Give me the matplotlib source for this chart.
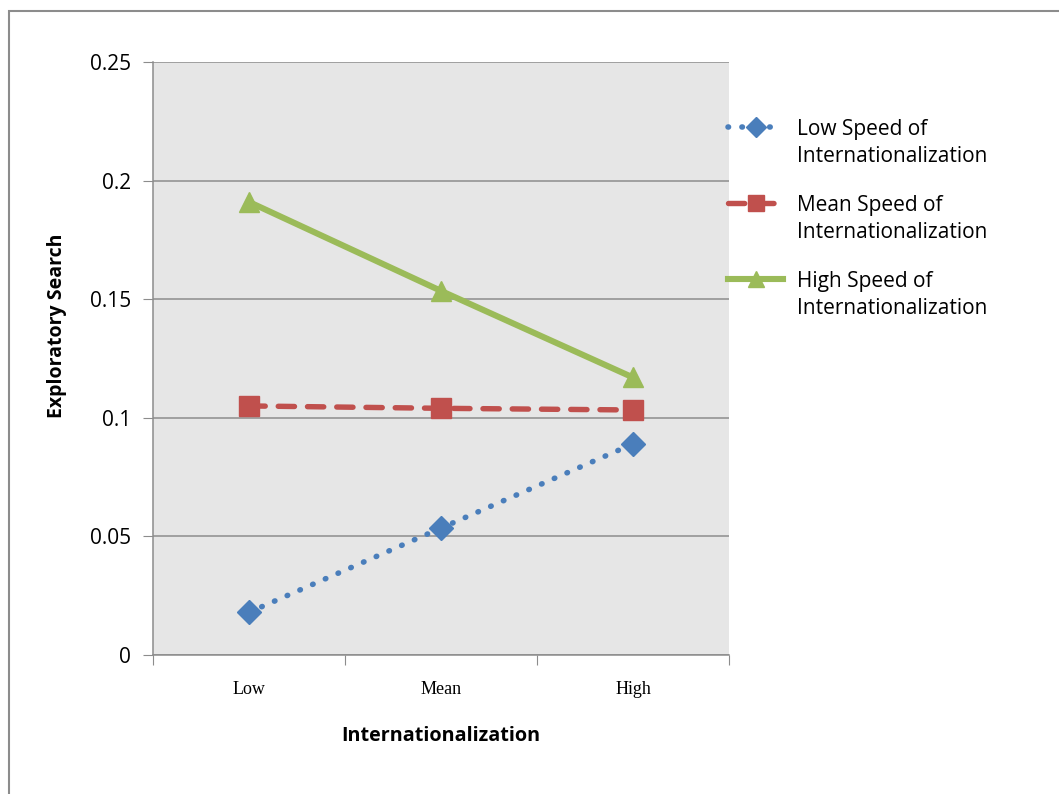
import matplotlib.pyplot as plt
from matplotlib.lines import Line2D
from matplotlib.patches import Rectangle

# Niveaus van internationalisering en de voorspelde exploratieve zoekwaarden
levels = ['Low', 'Mean', 'High']
low_speed = [0.018, 0.0535, 0.089]
mean_speed = [0.105, 0.104, 0.1033]
high_speed = [0.191, 0.1535, 0.117]
series_names = ['Low Speed of\nInternationalization',
                'Mean Speed of\nInternationalization',
                'High Speed of\nInternationalization']
y_ticks = [0, 0.05, 0.1, 0.15, 0.2, 0.25]

sans = ['Open Sans', 'DejaVu Sans']
serif = ['Liberation Serif', 'DejaVu Serif']
W, H = 1059, 794

styles = [
    dict(linestyle=(0, (0.1, 2.4)), dash_capstyle='round', color='#4a7ebb',
         linewidth=4.0, marker='D', markersize=12.5),
    dict(linestyle=(0, (3.0, 2.4)), dash_capstyle='round', color='#c0504d',
         linewidth=3.9, marker='s', markersize=14),
    dict(linestyle='-', color='#9bbb59', linewidth=4.4, marker='^',
         markersize=15),
]

fig = plt.figure(figsize=(W / 100, H / 100), dpi=100)
fig.patches.append(Rectangle((9 / W, -0.1), 1.2, 1.1 - 11 / H,
                             transform=fig.transFigure, fill=False,
                             edgecolor='#8c8c8c', linewidth=1.5))

ax = fig.add_axes([153 / W, 1 - 655 / H, 576 / W, 593 / H])
ax.set_facecolor('#e6e6e6')

x = [0.5, 1.5, 2.5]
for values, st in zip([low_speed, mean_speed, high_speed], styles):
    ax.plot(x, values, **st)

ax.set_xlim(0, 3)
ax.set_ylim(0, 0.25)
ax.set_yticks(y_ticks)
ax.set_yticklabels(['0', '0.05', '0.1', '0.15', '0.2', '0.25'],
                   fontsize=15, family=sans)
ax.set_xticks([0, 1, 2, 3])
ax.set_xticklabels([])
ax.set_xticks(x, minor=True)
ax.set_xticklabels(levels, minor=True, fontsize=13, family=serif)
ax.tick_params(axis='x', which='minor', length=0, pad=19)
ax.tick_params(axis='x', which='major', length=7, color='#8c8c8c')
ax.tick_params(axis='y', length=7, color='#8c8c8c', pad=9)
ax.grid(axis='y', color='#8c8c8c', linewidth=1.1)
ax.set_axisbelow(True)
for side in ['top', 'right']:
    ax.spines[side].set_visible(False)
for side in ['left', 'bottom']:
    ax.spines[side].set_color('#8c8c8c')
    ax.spines[side].set_linewidth(1.1)

ax.set_xlabel('Internationalization', fontsize=14.2, fontweight='bold',
              family=sans, labelpad=20)
ax.set_ylabel('Exploratory Search', fontsize=14, fontweight='bold',
              family=sans)
ax.yaxis.set_label_coords(-0.149, 0.555)

# legenda: lijnstuk met marker naast de eerste tekstregel
for i, (name, st) in enumerate(zip(series_names, styles)):
    y = 1 - (127 + 76 * i) / H
    ms = st['markersize'] * 0.8
    fig.add_artist(Line2D([728 / W, 783 / W], [y, y],
                          **dict(st, marker='None')))
    fig.add_artist(Line2D([756 / W], [y], linestyle='None',
                          marker=st['marker'], color=st['color'],
                          markersize=ms))
    fig.text(797 / W, y + 8 / H, name, fontsize=15, family=sans,
             va='top', ha='left', linespacing=1.38)

fig.savefig('out.png', dpi=100)
